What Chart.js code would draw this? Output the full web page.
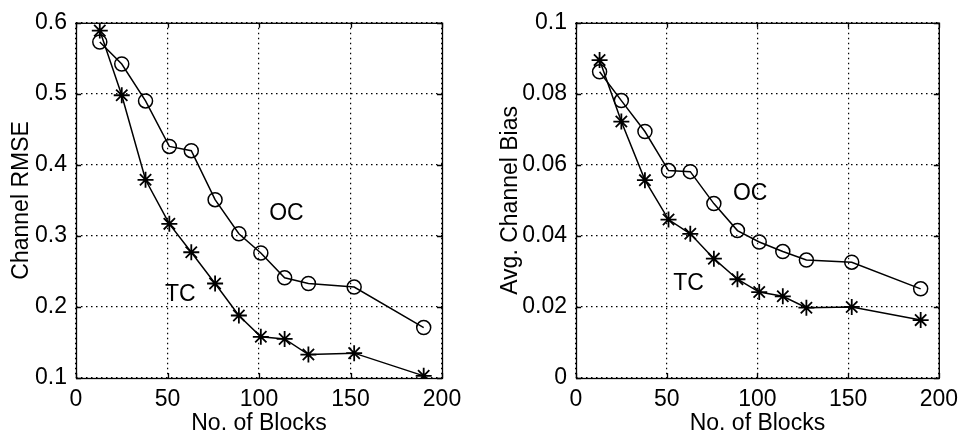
<!DOCTYPE html>
<html>
<head>
<meta charset="utf-8">
<script src="https://cdn.jsdelivr.net/npm/chart.js@4/dist/chart.umd.min.js"></script>
<style>
  body { margin: 0; background: #fff; }
  .box { position: absolute; top: 0; width: 483px; height: 441px; }
</style>
</head>
<body>
<div class="box" style="left:0"><canvas id="rmseChart" width="483" height="441"></canvas></div>
<div class="box" style="left:483px"><canvas id="biasChart" width="483" height="441"></canvas></div>
<script>
const blocks = [13, 25, 38, 51, 63, 76, 89, 101, 114, 127, 152, 190];

const rmseOC = [0.573, 0.542, 0.490, 0.426, 0.420, 0.351, 0.303, 0.276, 0.241, 0.233, 0.228, 0.171];
const rmseTC = [0.589, 0.498, 0.379, 0.317, 0.277, 0.233, 0.188, 0.158, 0.155, 0.133, 0.135, 0.103];

const biasOC = [0.0862, 0.0781, 0.0694, 0.0584, 0.0581, 0.0491, 0.0415, 0.0383, 0.0356, 0.0332, 0.0326, 0.0251];
const biasTC = [0.0895, 0.0722, 0.0557, 0.0446, 0.0406, 0.0336, 0.0278, 0.0242, 0.0230, 0.0198, 0.0200, 0.0163];

const xTicks = [0, 50, 100, 150, 200];
const rmseTicks = [0.1, 0.2, 0.3, 0.4, 0.5, 0.6];
const biasTicks = [0, 0.02, 0.04, 0.06, 0.08, 0.1];

const FONT = "'Liberation Sans', Arial, Helvetica, sans-serif";
const SIZE = 23;

function points(ys) {
  return blocks.map((x, i) => ({ x: x, y: ys[i] }));
}

// box round the plot, inward ticks, and the OC / TC labels
const framePlugin = {
  id: "frame",
  afterDraw(chart, args, opts) {
    const { ctx, chartArea: a, scales } = chart;
    ctx.save();
    ctx.strokeStyle = "#000";
    ctx.lineWidth = 1.3;
    ctx.strokeRect(a.left + 0.5, a.top + 0.5, a.right - a.left, a.bottom - a.top);
    ctx.beginPath();
    scales.x.ticks.forEach((t) => {
      const px = Math.round(scales.x.getPixelForValue(t.value)) + 0.5;
      ctx.moveTo(px, a.bottom); ctx.lineTo(px, a.bottom - 5);
      ctx.moveTo(px, a.top); ctx.lineTo(px, a.top + 5);
    });
    scales.y.ticks.forEach((t) => {
      const py = Math.round(scales.y.getPixelForValue(t.value)) + 0.5;
      ctx.moveTo(a.left, py); ctx.lineTo(a.left + 5, py);
      ctx.moveTo(a.right, py); ctx.lineTo(a.right - 5, py);
    });
    ctx.stroke();
    ctx.fillStyle = "#000";
    ctx.font = SIZE + "px " + FONT;
    ctx.textAlign = "center";
    ctx.textBaseline = "middle";
    opts.labels.forEach((l) => {
      ctx.fillText(l.text, scales.x.getPixelForValue(l.x), scales.y.getPixelForValue(l.y));
    });
    ctx.restore();
  },
};

function makeChart(id, oc, tc, yTicks, yTitle, box, labels) {
  const ctx = document.getElementById(id).getContext("2d");
  const line = {
    borderColor: "#000",
    borderWidth: 1.5,
    backgroundColor: "rgba(0,0,0,0)",
    showLine: true,
    tension: 0,
  };
  return new Chart(ctx, {
    type: "scatter",
    data: {
      datasets: [
        Object.assign({ label: "OC", data: points(oc), pointStyle: "circle", pointRadius: 7, pointBorderWidth: 1.5 }, line),
        Object.assign({ label: "TC", data: points(tc), pointStyle: "star", pointRadius: 8, pointBorderWidth: 1.8 }, line),
      ],
    },
    options: {
      responsive: false,
      animation: false,
      layout: { padding: { top: box.top, right: box.right, left: 0, bottom: 0 } },
      plugins: {
        legend: { display: false },
        tooltip: { enabled: false },
        frame: { labels: labels },
      },
      scales: {
        x: {
          type: "linear",
          min: 0,
          max: 200,
          afterBuildTicks: (s) => { s.ticks = xTicks.map((v) => ({ value: v })); },
          afterFit: (s) => { s.height = box.bottom; },
          ticks: { color: "#000", padding: 8, font: { family: FONT, size: SIZE } },
          grid: { color: "#000", lineWidth: 1.2, drawTicks: false },
          border: { display: false, dash: [1.5, 3.5] },
          title: { display: true, text: "No. of Blocks", color: "#000", padding: { top: 0, bottom: 4 }, font: { family: FONT, size: SIZE } },
        },
        y: {
          type: "linear",
          min: yTicks[0],
          max: yTicks[yTicks.length - 1],
          afterBuildTicks: (s) => { s.ticks = yTicks.map((v) => ({ value: v })); },
          afterFit: (s) => { s.width = box.left; },
          ticks: { color: "#000", padding: 9, font: { family: FONT, size: SIZE }, callback: (v) => String(+v.toFixed(3)) },
          grid: { color: "#000", lineWidth: 1.2, drawTicks: false },
          border: { display: false, dash: [1.5, 3.5] },
          title: { display: true, text: yTitle, color: "#000", padding: { top: box.titlePad, bottom: 0 }, font: { family: FONT, size: SIZE } },
        },
      },
    },
    plugins: [framePlugin],
  });
}

makeChart("rmseChart", rmseOC, rmseTC, rmseTicks, "Channel RMSE",
  { left: 76, right: 41, top: 15, bottom: 63, titlePad: 8 },
  [{ text: "OC", x: 115, y: 0.331 }, { text: "TC", x: 57, y: 0.218 }]);

makeChart("biasChart", biasOC, biasTC, biasTicks, "Avg. Channel Bias",
  { left: 93, right: 22, top: 15, bottom: 63, titlePad: 14 },
  [{ text: "OC", x: 96, y: 0.052 }, { text: "TC", x: 62, y: 0.0265 }]);
</script>
</body>
</html>
